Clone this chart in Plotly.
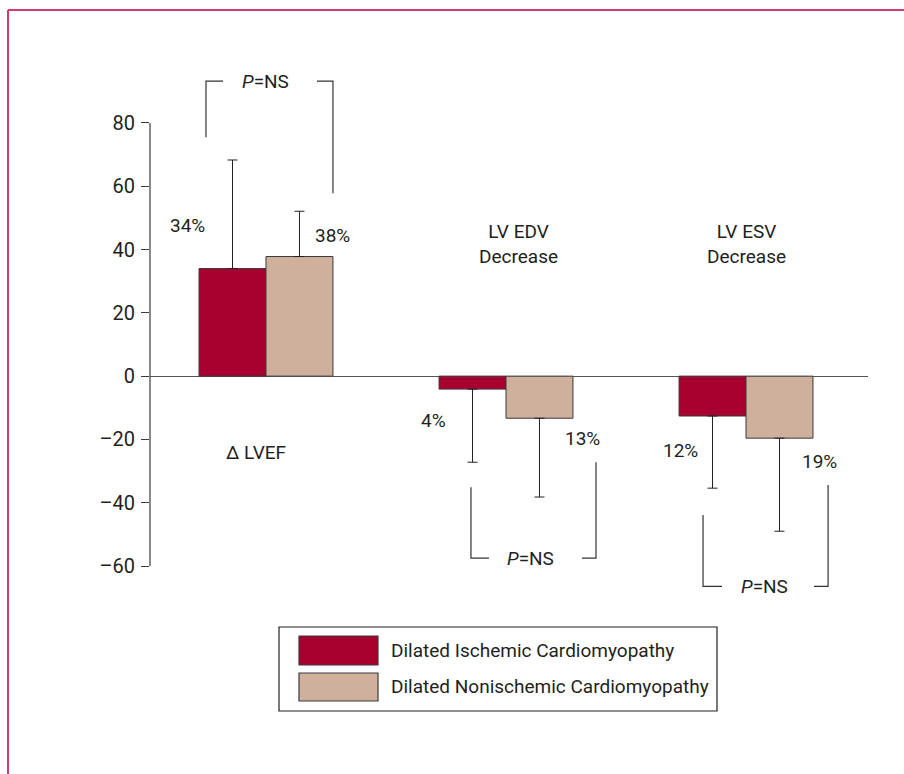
import plotly.graph_objects as go

# ---------------- data ----------------
categories = ["\u0394 LVEF", "LV EDV<br>Decrease", "LV ESV<br>Decrease"]
series_names = ["Dilated Ischemic Cardiomyopathy", "Dilated Nonischemic Cardiomyopathy"]
ischemic = [34, -4.1, -12.6]
nonischemic = [37.8, -13.3, -19.6]
ischemic_err = [34.3, 23.1, 22.8]
nonischemic_err = [14.3, 24.9, 29.4]
pct_labels_isch = ["34%", "4%", "12%"]
pct_labels_non = ["38%", "13%", "19%"]
tick_vals = [-60, -40, -20, 0, 20, 40, 60, 80]
tick_text = ["\u201360", "\u201340", "\u201320", "0", "20", "40", "60", "80"]
p_label = "<i>P</i>=NS"

# ---------------- style / layout ----------------
W, H = 904, 774
ML, MR, MT, MB = 150, 36, 66, 170
PW, PH = W - ML - MR, H - MT - MB
RED = "#a7002f"
TAN = "#cfb09c"
INK = "#231f20"
EDGE = "#3a3a3a"
FONT = "Roboto, Liberation Sans, Arial, sans-serif"
FS = 19


def px(x):
    return (x - ML) / PW


def py(y):
    return (H - MB - y) / PH


xpos = list(range(len(categories)))


def up(vals, errs):
    return [e if v >= 0 else 0 for v, e in zip(vals, errs)]


def down(vals, errs):
    return [e if v < 0 else 0 for v, e in zip(vals, errs)]


fig = go.Figure()
for name, vals, errs, col in [
    (series_names[0], ischemic, ischemic_err, RED),
    (series_names[1], nonischemic, nonischemic_err, TAN),
]:
    fig.add_trace(go.Bar(
        x=xpos, y=vals, name=name,
        marker=dict(color=col, line=dict(color=EDGE, width=1)),
        error_y=dict(type="data", symmetric=False,
                     array=up(vals, errs), arrayminus=down(vals, errs),
                     color=INK, thickness=1, width=5),
        showlegend=False, hoverinfo="skip",
    ))

annotations = []
# category labels
cat_pos = [(-0.042, -24), (1.054, 41.9), (2.0, 41.9)]
for lab, (ax_, ay_) in zip(categories, cat_pos):
    annotations.append(dict(x=ax_, y=ay_, text=lab, showarrow=False,
                            font=dict(size=FS, color=INK, family=FONT), align="center"))
# percent labels
pos_isch = [(-0.329, 47.7), (0.696, -14.1), (1.729, -23.4)]
pos_non = [(0.279, 44.5), (1.317, -19.6), (2.308, -26.9)]
for lab, (ax_, ay_) in list(zip(pct_labels_isch, pos_isch)) + list(zip(pct_labels_non, pos_non)):
    annotations.append(dict(x=ax_, y=ay_, text=lab, showarrow=False,
                            font=dict(size=FS, color=INK, family=FONT)))
# P = NS labels
p_pos = [(-0.004, 93.2), (1.104, -57.5), (2.079, -66.4)]
for ax_, ay_ in p_pos:
    annotations.append(dict(x=ax_, y=ay_, text=p_label, showarrow=False,
                            font=dict(size=FS, color=INK, family=FONT)))

shapes = []
# significance brackets (data coordinates)
brackets = [
    "M -0.25,75.5 L -0.25,93.2 L -0.179,93.2 M 0.2125,93.2 L 0.279,93.2 L 0.279,57.8",
    "M 0.854,-35.1 L 0.854,-57.5 L 0.929,-57.5 M 1.317,-57.5 L 1.375,-57.5 L 1.375,-27.2",
    "M 1.821,-43.9 L 1.821,-66.4 L 1.9,-66.4 M 2.283,-66.4 L 2.342,-66.4 L 2.342,-34.4",
]
for p in brackets:
    shapes.append(dict(type="path", path=p, xref="x", yref="y",
                       line=dict(color="#333333", width=1.2)))

# y axis line from -60 to 80
shapes.append(dict(type="line", xref="paper", yref="y", x0=0, x1=0, y0=-60, y1=80,
                   line=dict(color=EDGE, width=1.2)))

# custom legend
shapes.append(dict(type="rect", xref="paper", yref="paper",
                   x0=px(279), x1=px(717), y0=py(627), y1=py(711),
                   line=dict(color=INK, width=1.2), fillcolor="rgba(0,0,0,0)"))
legend_rows = [(636, 665, RED), (673, 701, TAN)]
for (y0, y1, col), name in zip(legend_rows, series_names):
    shapes.append(dict(type="rect", xref="paper", yref="paper",
                       x0=px(299), x1=px(378), y0=py(y0), y1=py(y1),
                       line=dict(color=EDGE, width=1.2), fillcolor=col))
    annotations.append(dict(xref="paper", yref="paper", x=px(389), y=py((y0 + y1) / 2),
                            xanchor="left", yanchor="middle", text=name, showarrow=False,
                            font=dict(size=FS, color=INK, family=FONT)))

# page frame
shapes.append(dict(type="line", xref="paper", yref="paper",
                   x0=px(8), x1=px(8), y0=py(10), y1=py(H + 5),
                   line=dict(color="#d43a6a", width=2)))
shapes.append(dict(type="line", xref="paper", yref="paper",
                   x0=px(8), x1=px(W + 5), y0=py(10), y1=py(10),
                   line=dict(color="#d43a6a", width=2)))

fig.update_layout(
    width=W, height=H,
    margin=dict(l=ML, r=MR, t=MT, b=MB, autoexpand=False),
    paper_bgcolor="white", plot_bgcolor="white",
    barmode="group", bargap=0.442, bargroupgap=0,
    font=dict(family=FONT, size=FS, color=INK),
    xaxis=dict(range=[-0.4833, 2.5083], showticklabels=False, showgrid=False,
               zeroline=False, showline=False, ticks=""),
    yaxis=dict(range=[-72, 98], tickvals=tick_vals, ticktext=tick_text,
               ticks="outside", ticklen=8, tickcolor=EDGE, tickwidth=1.2,
               showgrid=False, showline=False,
               zeroline=True, zerolinecolor="#555555", zerolinewidth=1.2,
               tickfont=dict(size=20, color=INK, family=FONT), ticklabelstandoff=2),
    shapes=shapes, annotations=annotations, showlegend=False,
)

fig.write_html("out.html", config={"displayModeBar": False},
               post_script="document.body.style.margin='0';document.body.style.padding='0';")
